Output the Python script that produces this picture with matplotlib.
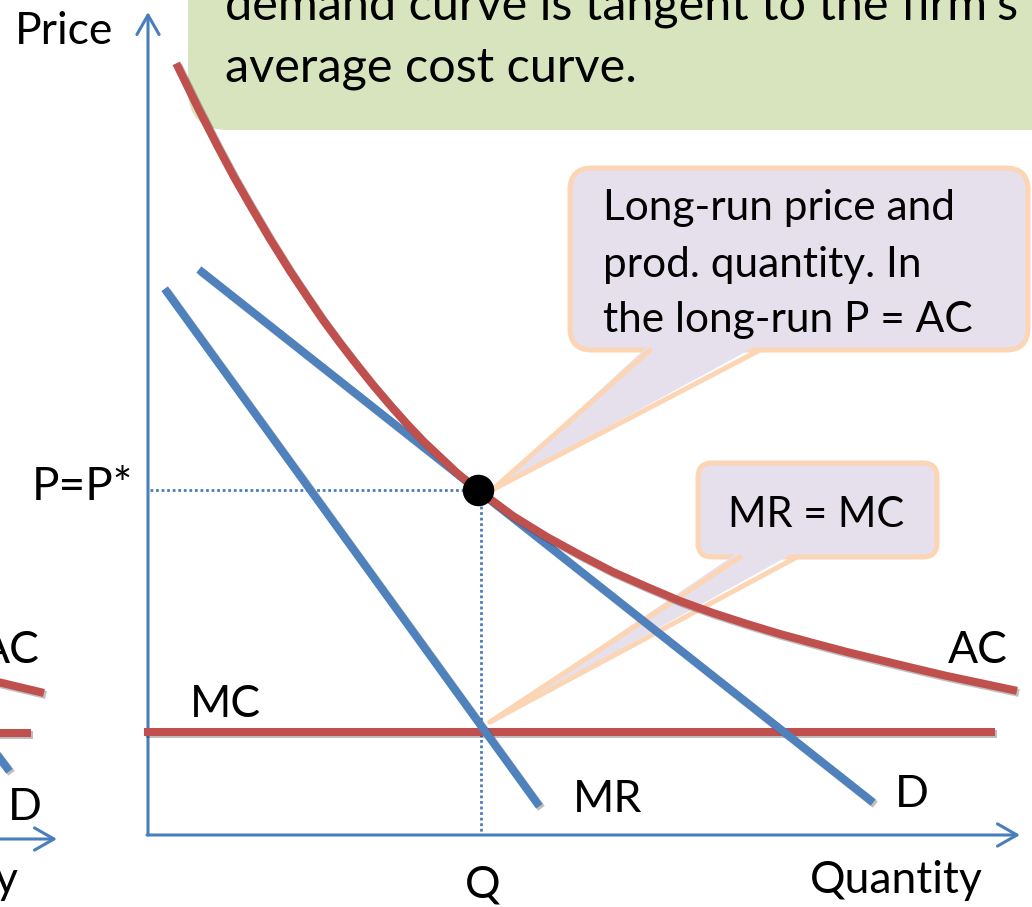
import matplotlib
matplotlib.use("Agg")
import matplotlib.pyplot as plt
import matplotlib.patheffects as pe
from matplotlib.patches import FancyBboxPatch, Polygon

plt.rcParams['font.family'] = ['Lato', 'DejaVu Sans']

# Long-run monopolistic competition diagram (quantity / price units)
demand_q = [54, 722]
demand_p = [563, 35]
mr_q = [19, 389]
mr_p = [543, 32]
mc_q = [0, 843]
mc_p = [103, 103]
ac_q = [30, 50, 70, 86, 102, 122, 142, 158, 175, 192, 209, 225, 242, 258, 275, 292, 309, 320,
        330, 365, 399, 432, 465, 499, 532, 565, 599, 632, 665, 699, 732, 765, 799, 832, 865]
ac_p = [768, 727, 688, 658, 630, 596, 564, 540, 515, 492, 470, 450, 430, 412, 394, 378, 362, 353,
        345, 319, 298, 280, 263, 248, 234, 222, 211, 201, 192, 183, 175, 167, 159, 152, 145]
q_star = 330
p_star = 345
q_line = 333

# pieces of the neighbouring slide graphic, cut off at the left edge
left_ac_q = [-150, -108]
left_ac_p = [153, 143]
left_mc_q = [-150, -121]
left_mc_p = [102, 102]
left_d_q = [-150, -141]
left_d_p = [79, 67]

RED = '#c0504d'
BLUE = '#4f81bd'
AXIS = '#4a7ebb'
PEACH = '#fcd5b5'
LILAC = '#e5e0ec'
GREEN = '#d7e4bd'

fig = plt.figure(figsize=(10.32, 9.07), dpi=100)
ax = fig.add_axes([0, 0, 1, 1])
ax.set_xlim(-148, 884)
ax.set_ylim(-72, 835)
ax.axis('off')

shadow = [pe.SimpleLineShadow(offset=(1.5, -1.5), shadow_color='black', alpha=0.25), pe.Normal()]

# call-out boxes (behind the curves)
green = FancyBboxPatch((40, 705), 900, 200, boxstyle='round,pad=0,rounding_size=40',
                       facecolor=GREEN, edgecolor='none', zorder=1)
ax.add_patch(green)
ax.text(77, 815, "demand curve is tangent to the firm's", fontsize=35, va='baseline', zorder=2)
ax.text(77, 753, "average cost curve.", fontsize=35, va='baseline', zorder=2)


def callout(x0, y0, w, h, r, base, tip, lines, fs):
    box = FancyBboxPatch((x0, y0), w, h, boxstyle=f'round,pad=0,rounding_size={r}',
                         facecolor=LILAC, edgecolor=PEACH, lw=3.6, zorder=1)
    ax.add_patch(box)
    tail = Polygon([(base[0], y0 + 6), (base[1], y0 + 6), tip], closed=True,
                   facecolor=LILAC, edgecolor='none', zorder=1.1)
    ax.add_patch(tail)
    for bx in base:
        ax.plot([bx, tip[0]], [y0, tip[1]], color=PEACH, lw=3.6, solid_capstyle='round', zorder=1.2)
    for txt, (tx, ty) in lines:
        ax.text(tx, ty, txt, fontsize=fs, va='baseline', zorder=2)


callout(422, 485, 458, 182, 22, (502, 612), (344, 345),
        [("Long-run price and", (455, 615)),
         ("prod. quantity. In", (455, 558)),
         ("the long-run P = AC", (455, 503))], 30.5)
callout(550, 278, 239, 94, 14, (592, 649), (342, 113),
        [("MR = MC", (580, 308))], 30)

# axes with open arrow heads
arrow = dict(arrowstyle='->,head_length=0.7,head_width=0.4', lw=2.2, color=AXIS,
             mutation_scale=20, shrinkA=0, shrinkB=0)
ax.annotate('', xy=(0, 823), xytext=(0, 0), arrowprops=arrow, zorder=3)
ax.annotate('', xy=(872, 0), xytext=(-1, 0), arrowprops=arrow, zorder=3)
ax.annotate('', xy=(-91, -4), xytext=(-160, -4), arrowprops=arrow, zorder=3)

# dotted guides to P* and Q
ax.plot([2, q_star - 8], [p_star, p_star], color=AXIS, lw=2.0, ls=(0, (1, 1)), zorder=3)
ax.plot([q_line, q_line], [p_star - 5, 0], color=AXIS, lw=2.0, ls=(0, (1, 1)), zorder=3)

# curves
ax.plot(mc_q, mc_p, color=RED, lw=5.8, path_effects=shadow, zorder=4)
ax.plot(mr_q, mr_p, color=BLUE, lw=5.8, path_effects=shadow, zorder=4)
ax.plot(demand_q, demand_p, color=BLUE, lw=5.8, path_effects=shadow, zorder=4)
ax.plot(ac_q, ac_p, color=RED, lw=5.8, path_effects=shadow, zorder=5,
        solid_joinstyle='round')
ax.plot(left_ac_q, left_ac_p, color=RED, lw=5.8, path_effects=shadow, zorder=4)
ax.plot(left_mc_q, left_mc_p, color=RED, lw=5.8, path_effects=shadow, zorder=4)
ax.plot(left_d_q, left_d_p, color=BLUE, lw=5.8, path_effects=shadow, zorder=4)

ax.scatter([q_star], [p_star], s=470, color='black', zorder=6)

# labels
fs = 32
ax.text(-133, 791, "Price", fontsize=fs, va='baseline')
ax.text(-15, 335, "P=P*", fontsize=33, va='baseline', ha='right')
ax.text(42, 118, "MC", fontsize=fs, va='baseline')
ax.text(425, 23, "MR", fontsize=fs, va='baseline')
ax.text(747, 28, "D", fontsize=fs, va='baseline')
ax.text(860, 172, "AC", fontsize=fs, va='baseline', ha='right')
ax.text(q_line + 2, -62, "Q", fontsize=fs, va='baseline', ha='center')
ax.text(835, -58, "Quantity", fontsize=fs, va='baseline', ha='right')
ax.text(-108, 172, "AC", fontsize=fs, va='baseline', ha='right')
ax.text(-140, 15, "D", fontsize=fs, va='baseline')
ax.text(-130, -58, "y", fontsize=fs, va='baseline', ha='right')

fig.savefig('out.png', dpi=100)
